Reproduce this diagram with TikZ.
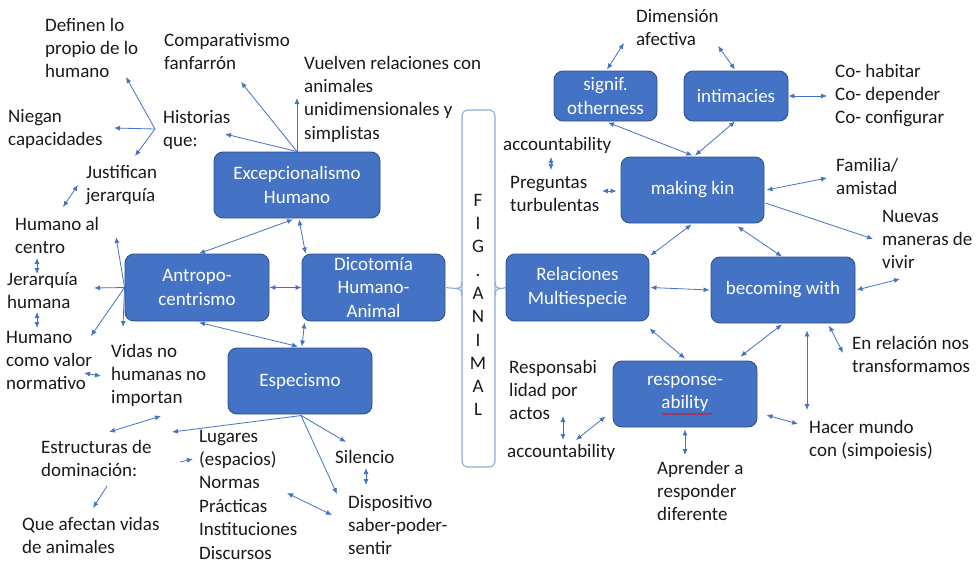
\documentclass[tikz,border=0pt]{standalone}
\usepackage{fontspec}
\setmainfont{Carlito}
\usetikzlibrary{arrows.meta,calc,decorations.pathmorphing}
\definecolor{boxfill}{HTML}{4472C4}
\definecolor{boxline}{HTML}{2F528F}
\definecolor{arrowc}{HTML}{4472C4}
\definecolor{brack}{HTML}{8FAADC}
\definecolor{txt}{HTML}{1A1A1A}
\begin{document}
\begin{tikzpicture}[x=1pt,y=-1pt,
  box/.style={draw=boxline, line width=0.9pt, fill=boxfill, rounded corners=9pt, text=white, inner sep=0pt, align=center, font=\fontsize{19}{23.4}\selectfont},
  lbl/.style={anchor=base west, align=left, inner sep=0pt, text=txt, font=\fontsize{19}{23.4}\selectfont},
  arr/.style={draw=arrowc, line width=0.8pt, -{Latex[length=6pt,width=5pt]}},
  darr/.style={draw=arrowc, line width=0.8pt, {Latex[length=6pt,width=5pt]}-{Latex[length=6pt,width=5pt]}},
  brk/.style={draw=brack, line width=1.1pt}
]
\fill[white] (0,0) rectangle (976,562);
\useasboundingbox (0,0) rectangle (976,562);

% ---- boxes
\node[box, minimum width=166pt, minimum height=66pt] (exc) at (297,185) {Excepcionalismo\\Humano};
\node[box, minimum width=144pt, minimum height=67pt] (ant) at (197,287.5) {Antropo-\\centrismo};
\node[box, minimum width=143pt, minimum height=67pt] (dic) at (373.5,287.5) {Dicotomía\\Humano-\\Animal};
\node[box, minimum width=144pt, minimum height=66pt] (esp) at (300,381) {Especismo};
\node[box, minimum width=103pt, minimum height=50pt] (sig) at (605.5,96) {signif.\\otherness};
\node[box, minimum width=104pt, minimum height=50pt] (inti) at (736,96) {intimacies};
\node[box, minimum width=143pt, minimum height=66pt] (kin) at (692.5,190) {making kin};
\node[box, minimum width=143pt, minimum height=67pt] (rel) at (577.5,287.5) {Relaciones\\Multiespecie};
\node[box, minimum width=144pt, minimum height=66pt] (bec) at (783,290) {becoming with};
\node[box, minimum width=144pt, minimum height=66pt] (resp) at (685,394) {response-\\ability};
\draw[red, line width=0.5pt, decorate, decoration={snake, amplitude=0.8pt, segment length=3pt}] (662,414) -- (712,414);

% ---- central bracket
\node[brk, rounded corners=6pt, minimum width=33pt, minimum height=357pt, inner sep=0pt] (fig) at (478.5,288.5) {};
\node[inner sep=0pt, align=center, text=txt, font=\fontsize{19}{23.3}\selectfont] (figtxt) at (478,305) {F\\I\\G\\.\\A\\N\\I\\M\\A\\L};
\draw[brk] (dic.east) -- ($(fig.west)+(-6,0)$);
\draw[brk] ($(fig.west)+(0,-7)$) .. controls ($(fig.west)+(0,-1)$) .. ($(fig.west)+(-6,0)$) .. controls ($(fig.west)+(0,1)$) .. ($(fig.west)+(0,7)$);
\draw[brk] (rel.west) -- ($(fig.east)+(6,0)$);
\draw[brk] ($(fig.east)+(0,-7)$) .. controls ($(fig.east)+(0,-1)$) .. ($(fig.east)+(6,0)$) .. controls ($(fig.east)+(0,1)$) .. ($(fig.east)+(0,7)$);

% ---- labels (anchored at the baseline of their last line)
\node[lbl] (def) at (45,77.8) {Definen lo\\propio de lo\\humano};
\node[lbl] (nieg) at (8,145.4) {Niegan\\capacidades};
\node[lbl] (hist) at (163,146.4) {Historias\\que:};
\node[lbl] (comp) at (164,69.4) {Comparativismo\\fanfarrón};
\node[lbl] (vuel) at (304,139.2) {Vuelven relaciones con\\animales\\unidimensionales y\\simplistas};
\node[lbl] (just) at (86,201.4) {Justifican\\jerarquía};
\node[lbl] (hcen) at (15,253.4) {Humano al\\centro};
\node[lbl] (jer) at (7,308.4) {Jerarquía\\humana};
\node[lbl] (hval) at (6,389.8) {Humano\\como valor\\normativo};
\node[lbl] (vid) at (111,403.8) {Vidas no\\humanas no\\importan};
\node[lbl] (est) at (41,476.4) {Estructuras de\\dominación:};
\node[lbl] (que) at (22,553.4) {Que afectan vidas\\de animales};
\node[lbl] (lug) at (199,559) {Lugares\\(espacios)\\Normas\\Prácticas\\Instituciones\\Discursos};
\node[lbl] (sil) at (335,463) {Silencio};
\node[lbl] (disp) at (348,554.8) {Dispositivo\\saber-poder-\\sentir};
\node[lbl] (dim) at (636,45.4) {Dimensión\\afectiva};
\node[lbl] (acca) at (503,150) {accountability};
\node[lbl] (preg) at (510,211.4) {Preguntas\\turbulentas};
\node[lbl] (co) at (835,123.8) {Co- habitar\\Co- depender\\Co- configurar};
\node[lbl] (fam) at (836,194.4) {Familia/\\amistad};
\node[lbl] (nuev) at (882,268.8) {Nuevas\\maneras de\\vivir};
\node[lbl] (respt) at (509,419.8) {Responsabi\\lidad por\\actos};
\node[lbl] (accb) at (507,457) {accountability};
\node[lbl] (apr) at (657,520.8) {Aprender a\\responder\\diferente};
\node[lbl] (enr) at (852,372.4) {En relación nos\\transformamos};
\node[lbl] (hac) at (809,456.4) {Hacer mundo\\con (simpoiesis)};

% ---- free ends
\coordinate (hj) at (155,129);
\coordinate (pdef) at (126,77);
\coordinate (pnieg) at (114,128);
\coordinate (pjust) at (135,156);
\coordinate (phist) at (225,134);
\coordinate (pcomp) at (241,82);
\coordinate (pvuel) at (297,98);
\coordinate (hcA) at (63,207);
\coordinate (hcB) at (78,185);
\coordinate (cjA) at (37,258);
\coordinate (cjB) at (37,274);
\coordinate (jhA) at (37,312);
\coordinate (jhB) at (37,328);
\coordinate (pjer) at (94,288);
\coordinate (phcen) at (116,237);
\coordinate (phval) at (91,336);
\coordinate (pvid) at (123,327);
\coordinate (nvA) at (84,373);
\coordinate (nvB) at (101,376);
\coordinate (ieA) at (161,416);
\coordinate (ieB) at (109,432);
\coordinate (pest) at (172,432);
\coordinate (elA) at (180,462);
\coordinate (elB) at (193,459);
\coordinate (eqA) at (107,486);
\coordinate (eqB) at (93,508);
\coordinate (ndA) at (287,493);
\coordinate (ndB) at (332,515);
\coordinate (psil) at (346,442);
\coordinate (pdisp) at (337,494);
\coordinate (sdA) at (366,468);
\coordinate (sdB) at (366,485);
\coordinate (dimA) at (624,43);
\coordinate (dimB) at (718,46);
\coordinate (apA) at (551,157);
\coordinate (apB) at (551,170);
\coordinate (ppreg) at (602,191);
\coordinate (pco) at (827,96);
\coordinate (pfam) at (827,178);
\coordinate (pnuev) at (873,239);
\coordinate (pviv) at (900,279);
\coordinate (raA) at (563,416);
\coordinate (raB) at (563,440);
\coordinate (pacc) at (576,440);
\coordinate (papr) at (685,455);
\coordinate (phac) at (798,424);
\coordinate (phac2) at (807,410);
\coordinate (penr) at (843,353);

% ---- connectors, left half
\draw[arr] (hj) -- (pdef);
\draw[arr] (hj) -- (pnieg);
\draw[arr] (hj) -- (pjust);
\draw[arr] (exc.north) -- (phist);
\draw[arr] (exc.north) -- (pcomp);
\draw[arr] (exc.north) -- (pvuel);
\draw[darr] (hcA) -- (hcB);
\draw[darr] (cjA) -- (cjB);
\draw[darr] (jhA) -- (jhB);
\draw[arr] (ant.west) -- (pjer);
\draw[arr] (ant.west) -- (phcen);
\draw[arr] (ant.west) -- (phval);
\draw[arr] (ant.west) -- (pvid);
\draw[darr] (nvA) -- (nvB);
\draw[darr] ($(exc.south)+(-4,1)$) -- ($(ant.north)+(2,0)$);
\draw[darr] ($(exc.south)+(2,1)$) -- ($(dic.north west)+(4,0)$);
\draw[darr] (ant.east) -- (dic.west);
\draw[darr] ($(ant.south)+(2,1)$) -- ($(esp.north)+(-2,-1)$);
\draw[darr] ($(dic.south west)+(3,1)$) -- ($(esp.north)+(2,-1)$);
\draw[darr] (ieA) -- (ieB);
\draw[arr] ($(esp.south)+(2,1)$) -- (pest);
\draw[arr] (elA) -- (elB);
\draw[arr] (eqA) -- (eqB);
\draw[darr] (ndA) -- (ndB);
\draw[arr] ($(esp.south)+(1,1)$) -- (psil);
\draw[arr] ($(esp.south)+(1,1)$) -- (pdisp);
\draw[darr] (sdA) -- (sdB);

% ---- connectors, right half
\draw[darr] ($(sig.north)+(1.5,-1)$) -- (dimA);
\draw[darr] (dimB) -- ($(inti.north)+(-1,-1)$);
\draw[darr] ($(sig.south)+(2.5,1)$) -- ($(kin.north)+(0,-1)$);
\draw[darr] ($(inti.south)+(-1,0)$) -- ($(kin.north)+(2.5,-1)$);
\draw[darr] (apA) -- (apB);
\draw[darr] (ppreg) -- ($(kin.west)+(-4,1)$);
\draw[darr] ($(kin.south)+(-1,1)$) -- ($(rel.north east)+(1,2)$);
\draw[darr] ($(kin.south)+(45,3)$) -- ($(bec.north)+(-1,0)$);
\draw[darr] (inti.east) -- (pco);
\draw[darr] ($(kin.east)+(2,0)$) -- (pfam);
\draw[arr] ($(kin.east)+(1,13)$) -- (pnuev);
\draw[darr] ($(bec.east)+(1,0)$) -- (pviv);
\draw[darr] ($(rel.east)+(1,0)$) -- ($(bec.west)+(-1,0)$);
\draw[darr] ($(rel.south east)+(0,7)$) -- ($(resp.north)+(0,-2)$);
\draw[darr] ($(bec.south)+(-1,1)$) -- ($(resp.north east)+(-17,-4)$);
\draw[darr] (raA) -- (raB);
\draw[darr] (pacc) -- ($(resp.south west)+(-7,-11)$);
\draw[darr] ($(resp.south)+(0,2)$) -- (papr);
\draw[darr] ($(resp.east)+(9,21)$) -- (phac);
\draw[darr] ($(bec.south)+(24,7)$) -- (phac2);
\draw[darr] ($(bec.south)+(46,2)$) -- (penr);
\end{tikzpicture}
\end{document}
